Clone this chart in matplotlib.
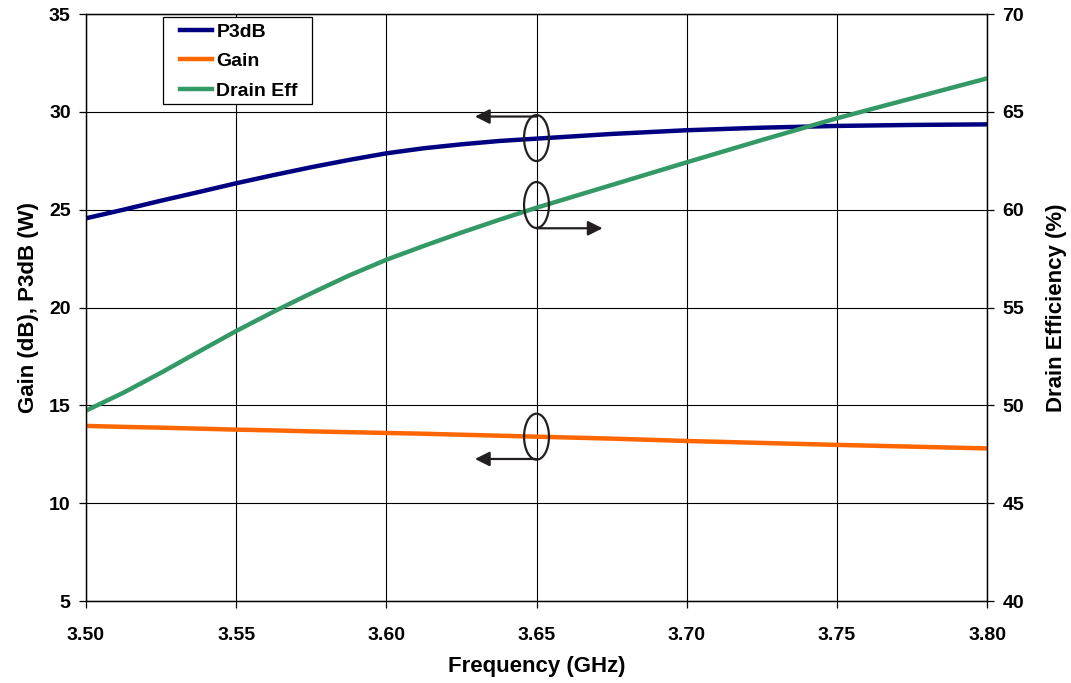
import numpy as np
import matplotlib
matplotlib.use("Agg")
import matplotlib.pyplot as plt
from matplotlib.patches import Ellipse, Rectangle

plt.rcParams['font.family'] = ['Liberation Sans', 'DejaVu Sans']
plt.rcParams['font.weight'] = 'bold'

# values
freq = [3.5000, 3.5125, 3.5250, 3.5375, 3.5500, 3.5625, 3.5750,
        3.5875, 3.6000, 3.6125, 3.6250, 3.6375, 3.6500,
        3.6750, 3.7000, 3.7250, 3.7500, 3.7750, 3.8000]
p3db = [24.56, 25.00, 25.46, 25.90, 26.35, 26.77, 27.17,
        27.54, 27.88, 28.14, 28.34, 28.51, 28.63,
        28.87, 29.06, 29.19, 29.28, 29.33, 29.36]
gain = [13.95, 13.90, 13.86, 13.81, 13.76, 13.72, 13.67,
        13.63, 13.59, 13.55, 13.50, 13.45, 13.40,
        13.30, 13.18, 13.08, 12.98, 12.89, 12.80]
drain_eff = [49.73, 50.65, 51.67, 52.74, 53.80, 54.79, 55.73,
             56.63, 57.44, 58.15, 58.83, 59.48, 60.10,
             61.26, 62.42, 63.56, 64.67, 65.69, 66.71]

x_ticks = [3.50, 3.55, 3.60, 3.65, 3.70, 3.75, 3.80]
left_ticks = [5, 10, 15, 20, 25, 30, 35]
right_ticks = [40, 45, 50, 55, 60, 65, 70]

fig = plt.figure(figsize=(10.71, 6.83), dpi=100)
ax = fig.add_axes([0.0803, 0.120, 0.8413, 0.8595])
ax2 = ax.twinx()

l1, = ax.plot(freq, p3db, color='#000080', lw=3.2, label='P3dB')
l2, = ax.plot(freq, gain, color='#FF6600', lw=3.2, label='Gain')
l3, = ax2.plot(freq, drain_eff, color='#339966', lw=3.2, label='Drain Eff')

ax.set_xlim(3.50, 3.80)
ax.set_ylim(5, 35)
ax2.set_ylim(40, 70)
ax.set_xticks(x_ticks)
ax.set_xticklabels(['%.2f' % v for v in x_ticks])
ax.set_yticks(left_ticks)
ax2.set_yticks(right_ticks)

ax.grid(True, color='black', lw=0.8)
ax.set_axisbelow(True)
for a in (ax, ax2):
    for s in a.spines.values():
        s.set_color('black')
        s.set_linewidth(0.9)
ax.tick_params(axis='x', direction='out', length=5, width=0.9, labelsize=14, pad=14)
ax.tick_params(axis='y', direction='out', length=5, width=0.9, labelsize=14, pad=6)
ax2.tick_params(axis='y', direction='out', length=5, width=0.9, labelsize=14, pad=6)

ax.set_xlabel('Frequency (GHz)', fontsize=16, fontweight='bold', labelpad=8)
ax.set_ylabel('Gain (dB), P3dB (W)', fontsize=16, fontweight='bold', labelpad=7)
ax2.set_ylabel('Drain Efficiency (%)', fontsize=16, fontweight='bold', labelpad=15.5)

# legend box drawn by hand so the inner padding matches
ax2.add_patch(Rectangle((0.0855, 0.847), 0.1655, 0.148, transform=ax2.transAxes,
                        fill=True, facecolor='white', edgecolor='black',
                        lw=0.9, zorder=6))
leg = ax2.legend(handles=[l1, l2, l3], loc='upper left',
                 bbox_to_anchor=(0.1043, 0.984), borderaxespad=0,
                 borderpad=0, fontsize=14, frameon=False,
                 handlelength=1.65, handletextpad=0.22, labelspacing=0.6)
leg.set_zorder(7)
for t in leg.get_texts():
    t.set_fontweight('bold')

# ellipse markers with arrows pointing to the axis each curve belongs to
ell_w, ell_h = 0.0083, 2.35
marks = [
    # centre y (left axis), arrow y, arrow tip x
    (28.66, 29.76, 3.6295),
    (25.24, 24.05, 3.672),
    (13.40, 12.26, 3.6295),
]
for cy, ay, tx in marks:
    ax2.add_patch(Ellipse((3.65, cy), ell_w, ell_h, transform=ax.transData,
                          fill=False, edgecolor='#231f20', lw=1.6, zorder=5))
    ax2.annotate('', xy=(tx, ay), xytext=(3.65, ay),
                 xycoords=ax.transData, textcoords=ax.transData,
                 arrowprops=dict(arrowstyle='-|>', color='#231f20', lw=1.6,
                                 mutation_scale=22, shrinkA=0, shrinkB=0),
                 zorder=5)

fig.savefig('out.png', dpi=100)
